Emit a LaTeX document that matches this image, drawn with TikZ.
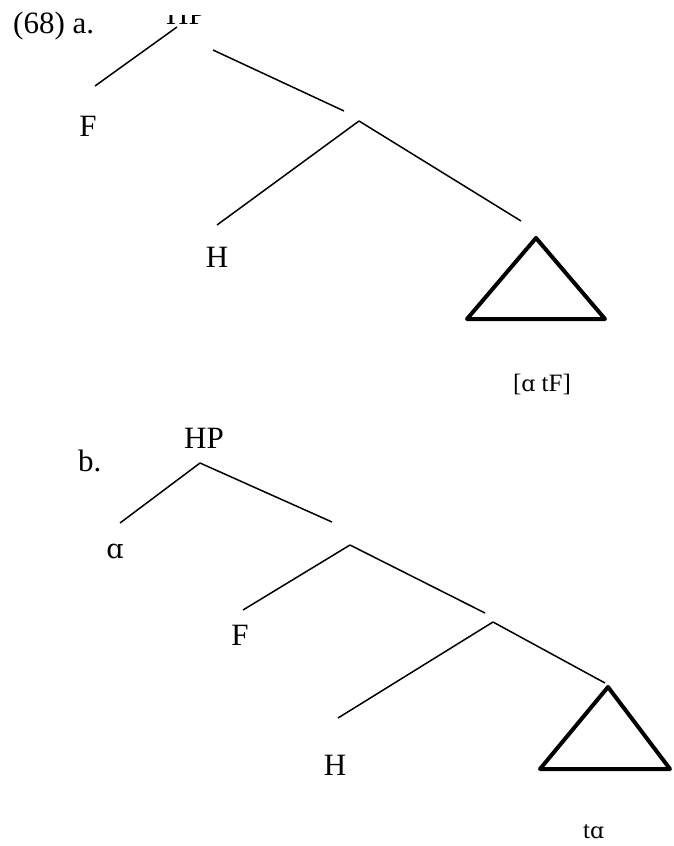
\documentclass[tikz,border=0pt]{standalone}
\usepackage{fontspec}
\setmainfont{Liberation Serif}
\newfontfamily\ipafont{DejaVu Serif}
\begin{document}
\begin{tikzpicture}[x=1pt,y=-1pt,
  lab/.style={inner sep=0pt,anchor=base,font=\fontsize{31}{37}\selectfont},
  smalllab/.style={inner sep=0pt,anchor=base,font=\fontsize{25}{30}\selectfont},
  branch/.style={line width=1.5pt,line cap=butt},
  tri/.style={line width=4pt,line join=round}]
\useasboundingbox (0,0) rectangle (673,846);
% ---------- (a) ----------
\node[lab,anchor=base west] (exa) at (13,33) {(68) a.};
\begin{scope}
  \clip (150,15) rectangle (230,40);
  \node[lab] (hpa) at (186,24) {HP};
\end{scope}
\node[lab] (fa) at (88,136) {F};
\node[lab] (ha) at (217,267) {H};
\node[smalllab] (compa) at (542,391) {[{\ipafont\fontsize{22}{26}\selectfont ɑ} tF]};
\coordinate (a0l) at (177,27);
\coordinate (a0r) at (213,50);
\coordinate (a1l) at (95,86);
\coordinate (a1) at (359,121);
\coordinate (a1in) at (344,111);
\coordinate (a2l) at (217,225);
\coordinate (a2r) at (521,221);
\coordinate (ta) at (536,238);
\coordinate (tal) at (467,319);
\coordinate (tar) at (605,319);
\draw[branch] (a0l) -- (a1l);
\draw[branch] (a0r) -- (a1in);
\draw[branch] (a1) -- (a2l);
\draw[branch] (a1) -- (a2r);
\draw[tri] (ta) -- (tal) -- (tar) -- cycle;
% ---------- (b) ----------
\node[lab,anchor=base west] (exb) at (78,471) {b.};
\node[lab] (hpb) at (204,448) {HP};
\node[lab,font=\ipafont\fontsize{27}{32}\selectfont] (alb) at (115,558) {ɑ};
\node[lab] (fb) at (240,645) {F};
\node[lab] (hb) at (335,775) {H};
\node[smalllab,anchor=base west] (tb) at (583,838) {t{\ipafont\fontsize{22}{26}\selectfont ɑ}};
\coordinate (b0) at (200,463);
\coordinate (b0l) at (120,523);
\coordinate (b0r) at (332,522);
\coordinate (b1) at (350,545);
\coordinate (b1l) at (243,610);
\coordinate (b1r) at (485,613);
\coordinate (b2) at (493,622);
\coordinate (b2l) at (338,718);
\coordinate (b2r) at (605,683);
\coordinate (tb0) at (608,687);
\coordinate (tbl) at (540,769);
\coordinate (tbr) at (670,769);
\draw[branch] (b0) -- (b0l);
\draw[branch] (b0) -- (b0r);
\draw[branch] (b1) -- (b1l);
\draw[branch] (b1) -- (b1r);
\draw[branch] (b2) -- (b2l);
\draw[branch] (b2) -- (b2r);
\draw[tri] (tb0) -- (tbl) -- (tbr) -- cycle;
\end{tikzpicture}
\end{document}
